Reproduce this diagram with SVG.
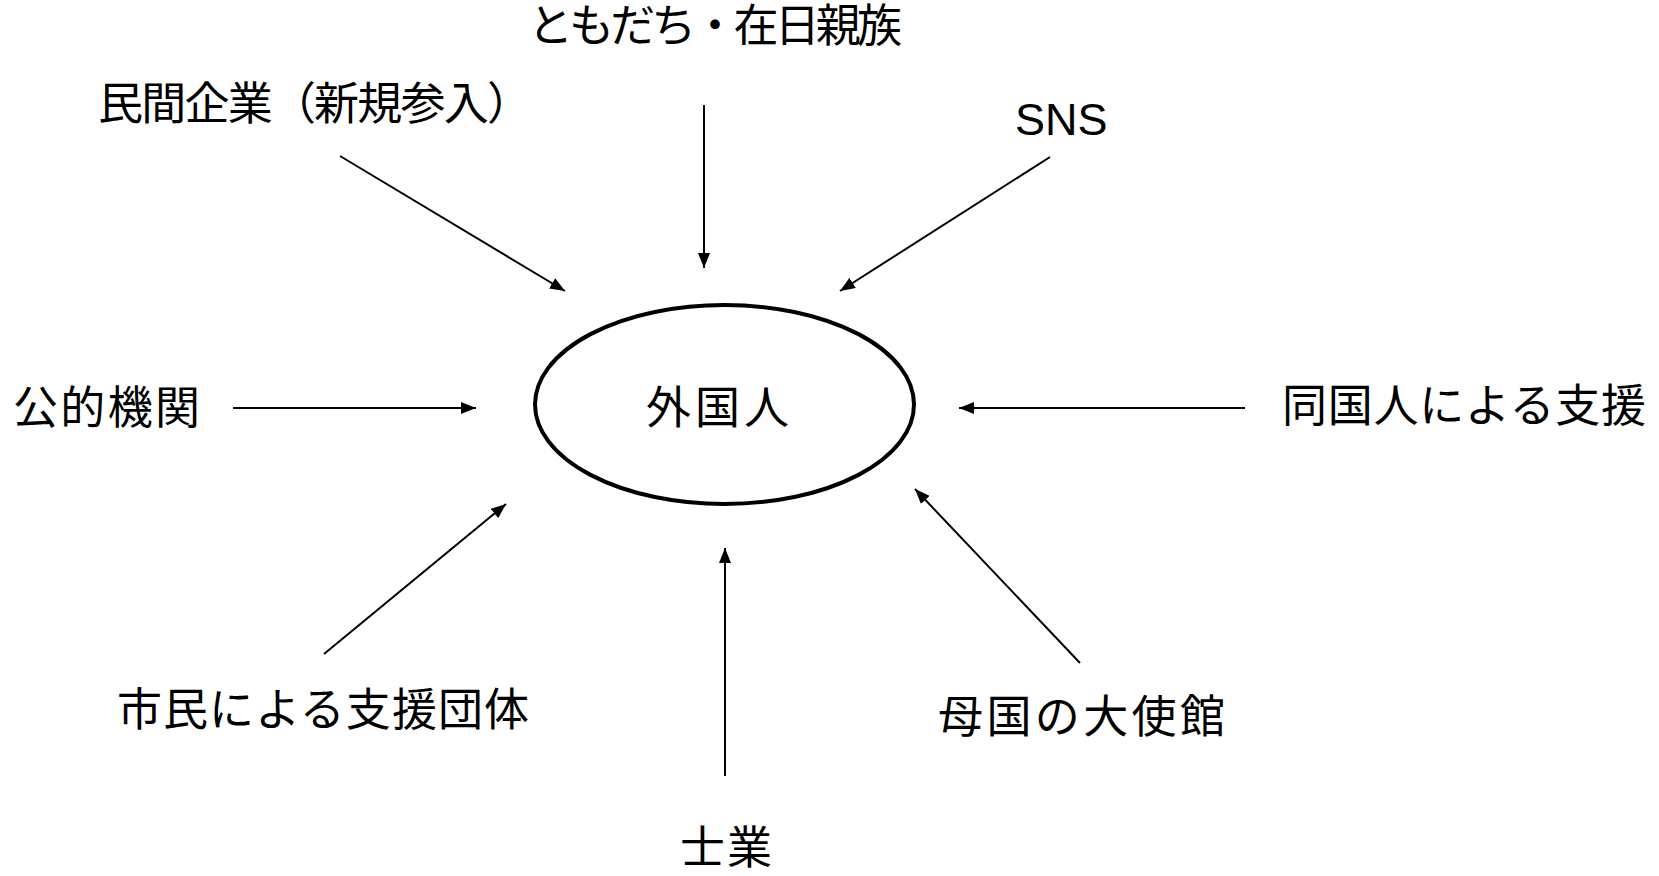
<svg xmlns="http://www.w3.org/2000/svg" width="1659" height="876" viewBox="0 0 1659 876">
<style>
text{font-family:"Liberation Sans","Noto Sans CJK JP",sans-serif;font-size:45px;fill:#000}
.c line{stroke:#000;stroke-width:2;fill:none;marker-end:url(#ah)}
</style>
<defs>
<marker id="ah" markerUnits="userSpaceOnUse" viewBox="0 0 15 12" refX="15" refY="6" markerWidth="15" markerHeight="12" orient="auto">
<path d="M0,0 L15,6 L0,12 z" fill="#000"/>
</marker>
</defs>
<rect width="1659" height="876" fill="#fff"/>
<g id="center">
<ellipse cx="724.5" cy="404.5" rx="189.5" ry="99.5" fill="none" stroke="#000" stroke-width="4"/>
<text x="646" y="424" textLength="143" lengthAdjust="spacing">外国人</text>
</g>
<g id="n-tomodachi"><text x="528" y="42" textLength="374" lengthAdjust="spacing">ともだち・在日親族</text></g>
<g id="n-minkan"><text x="98" y="120" textLength="434" lengthAdjust="spacing">民間企業（新規参入）</text></g>
<g id="n-sns"><text x="1015" y="135" font-size="46">SNS</text></g>
<g id="n-koteki"><text x="13" y="424" textLength="187" lengthAdjust="spacing">公的機関</text></g>
<g id="n-doukoku"><text x="1282" y="422" textLength="364" lengthAdjust="spacing">同国人による支援</text></g>
<g id="n-shimin"><text x="117" y="726" textLength="412" lengthAdjust="spacing">市民による支援団体</text></g>
<g id="n-bokoku"><text x="938" y="733" textLength="287" lengthAdjust="spacing">母国の大使館</text></g>
<g id="n-shigyo"><text x="680" y="864" textLength="92" lengthAdjust="spacing">士業</text></g>
<g id="connectors" class="c">
<line x1="340" y1="156" x2="565" y2="291"/>
<line x1="704" y1="105" x2="704" y2="268"/>
<line x1="1050" y1="157" x2="840" y2="291"/>
<line x1="233" y1="408" x2="476" y2="408"/>
<line x1="1245" y1="408" x2="959" y2="408"/>
<line x1="324" y1="654" x2="506" y2="504"/>
<line x1="725" y1="776" x2="725" y2="548"/>
<line x1="1080" y1="663" x2="915" y2="489"/>
</g>
</svg>
